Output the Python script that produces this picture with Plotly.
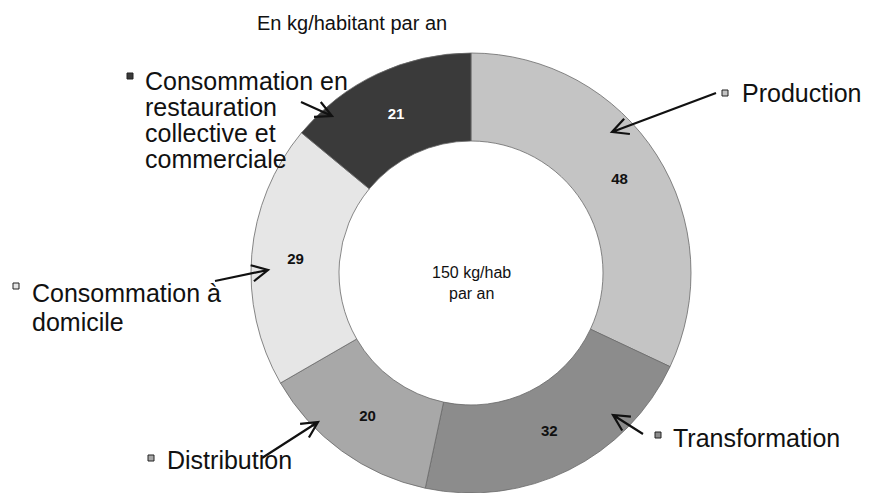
import math
import plotly.graph_objects as go

W, H = 869, 493

categories = ["Production", "Transformation", "Distribution",
              "Consommation à domicile", "Consommation en restauration collective et commerciale"]
values = [48, 32, 20, 29, 21]
colors = ["#c4c4c4", "#8c8c8c", "#a8a8a8", "#e6e6e6", "#3a3a3a"]
text_colors = ["#111111", "#111111", "#111111", "#111111", "#ffffff"]

title_text = "En kg/habitant par an"
center_lines = ["150 kg/hab", "par an"]

def px(x):
    return x / W

def py(y):
    return 1 - y / H

cx, cy, R = 471, 273, 220

fig = go.Figure(go.Pie(
    labels=categories,
    values=values,
    sort=False,
    direction="clockwise",
    rotation=0,
    hole=0.6,
    marker=dict(colors=colors, line=dict(color="#6a6a6a", width=0.8)),
    texttemplate="<b>%{value}</b>",
    textposition="inside",
    insidetextorientation="horizontal",
    textfont=dict(family="Liberation Sans, Arial", size=15, color=text_colors),
    domain=dict(x=[px(cx - R), px(cx + R)], y=[py(cy + R), py(cy - R)]),
    showlegend=False,
    hoverinfo="label+value",
))

LBL = dict(family="Liberation Sans, Arial", size=25, color="#111111")

annotations = []
shapes = []

# Title
annotations.append(dict(x=px(352), y=py(23), xref="paper", yref="paper",
                        xanchor="center", yanchor="middle",
                        text=title_text, showarrow=False,
                        font=dict(family="Liberation Sans, Arial", size=20, color="#111111")))
# Center text
for i, t in enumerate(center_lines):
    annotations.append(dict(x=px(472), y=py(272 + 21 * i), xref="paper", yref="paper",
                            xanchor="center", yanchor="middle",
                            text=t, showarrow=False,
                            font=dict(family="Liberation Sans, Arial", size=16, color="#111111")))

# Category labels: (lines, text-left-x, line-center-ys, square box, arrow head, arrow tail, color index)
label_specs = [
    (["Production"], 740, [93], (722, 90), (612, 132), (716, 93), 0),
    (["Transformation"], 671, [438], (655, 432), (613, 415), (643, 434), 1),
    (["Distribution"], 165, [460], (148, 455), (318, 422), (262, 458), 2),
    (["Consommation à", "domicile"], 30, [293, 322], (13, 283), (268, 270), (215, 281), 3),
    (["Consommation en", "restauration", "collective et", "commerciale"], 143,
     [81, 107, 133, 159], (127, 73), (332, 116), (301, 102), 4),
]

BARB = 18
ANG = math.radians(27)

def arrow_path(head, tail):
    hx, hy = head
    tx, ty = tail
    d = math.atan2(ty - hy, tx - hx)
    b1 = (hx + BARB * math.cos(d + ANG), hy + BARB * math.sin(d + ANG))
    b2 = (hx + BARB * math.cos(d - ANG), hy + BARB * math.sin(d - ANG))
    pts = lambda p: f"{px(p[0]):.5f},{py(p[1]):.5f}"
    return f"M{pts(tail)} L{pts(head)} M{pts(b1)} L{pts(head)} L{pts(b2)}"

for lines, tx, ys, (sx, sy), head, tail, ci in label_specs:
    for line, ly in zip(lines, ys):
        annotations.append(dict(x=px(tx), y=py(ly), xref="paper", yref="paper",
                                text=line, showarrow=False, xanchor="left",
                                yanchor="middle", font=LBL))
    shapes.append(dict(type="rect", xref="paper", yref="paper",
                       x0=px(sx), x1=px(sx + 6), y0=py(sy + 6), y1=py(sy),
                       fillcolor=colors[ci], line=dict(color="#222222", width=1)))
    shapes.append(dict(type="path", xref="paper", yref="paper",
                       path=arrow_path(head, tail),
                       line=dict(color="#111111", width=2.2)))

fig.update_layout(
    width=W, height=H,
    margin=dict(l=0, r=0, t=0, b=0),
    paper_bgcolor="white", plot_bgcolor="white",
    annotations=annotations,
    shapes=shapes,
)

fig.write_html("out.html",
               config={"displayModeBar": False},
               post_script="document.body.style.margin='0';document.body.style.overflow='hidden';")
